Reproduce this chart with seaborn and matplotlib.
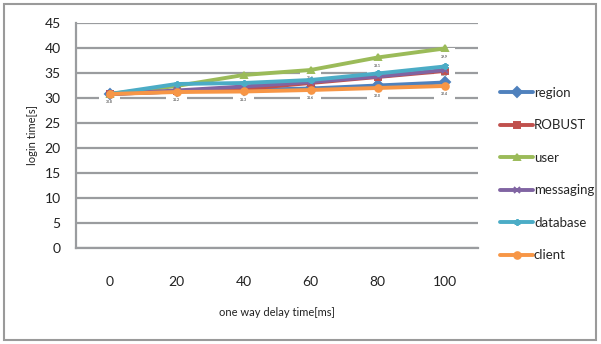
import matplotlib
matplotlib.use("Agg")
import matplotlib.pyplot as plt
from matplotlib.patches import Rectangle
import seaborn as sns
import pandas as pd

# Login time measurements per one-way delay setting
delays = ["0", "20", "40", "60", "80", "100"]
region = [30.8, 31.3, 31.6, 31.9, 32.5, 33.1]
robust = [30.8, 31.3, 31.8, 33.0, 34.2, 35.4]
user = [30.8, 32.4, 34.6, 35.6, 38.1, 39.9]
messaging = [30.8, 31.5, 32.3, 33.2, 34.3, 35.6]
database = [30.8, 32.8, 33.0, 33.6, 34.9, 36.3]
client = [30.8, 31.2, 31.3, 31.6, 32.0, 32.4]

series_names = ["region", "ROBUST", "user", "messaging", "database", "client"]
series_values = [region, robust, user, messaging, database, client]
colors = ["#4F81BD", "#C0504D", "#9BBB59", "#8064A2", "#4BACC6", "#F79646"]
markers = ["D", "s", "^", "x", (6, 2, 0), "o"]

rows = []
for name, vals in zip(series_names, series_values):
    for i, (d, v) in enumerate(zip(delays, vals)):
        rows.append({"pos": i, "delay": d, "series": name, "login": v})
df = pd.DataFrame(rows)

sns.set_theme(style="white")
plt.rcParams["font.family"] = ["Lato", "DejaVu Sans"]

fig = plt.figure(figsize=(6.01, 3.44), dpi=100)
ax = fig.add_axes([76 / 601, 1 - 248 / 344, (478 - 76) / 601, (248 - 23) / 344])

# outer chart border
fig.patches.append(Rectangle((4 / 601, 4 / 344), 592 / 601, 336 / 344,
                             transform=fig.transFigure, fill=False,
                             edgecolor="#9a9a9a", linewidth=1.5, zorder=0))

grid_color = "#9a9c9f"
ax.set_axisbelow(True)
ax.yaxis.grid(True, color=grid_color, linewidth=1.6, zorder=0.5)

for name, c, m in zip(series_names, colors, markers):
    sub = df[df["series"] == name]
    sns.lineplot(data=sub, x="pos", y="login", color=c, marker=m, label=name,
                 linewidth=2.8, markersize=4.8, markeredgewidth=1.4,
                 markeredgecolor=c, ax=ax, zorder=3)

# value labels below each point
for name, vals in zip(series_names, series_values):
    for i, v in enumerate(vals):
        ax.annotate(f"{v:.1f}", (i, v), xytext=(0, -6), textcoords="offset points",
                    ha="center", va="center", fontsize=2.5, color="#222222",
                    bbox=dict(boxstyle="square,pad=2.0", facecolor="white",
                              edgecolor="none"), zorder=1.5)

ax.set_xlim(-0.5, len(delays) - 0.5)
ax.set_ylim(0, 45)
ax.set_yticks(range(0, 46, 5))
ax.set_xticks(range(len(delays)))
ax.set_xticklabels(delays)
ax.set_xticks([i - 0.5 for i in range(len(delays) + 1)], minor=True)
ax.tick_params(axis="x", which="major", length=0, pad=20, labelsize=10, colors="#222222")
ax.tick_params(axis="x", which="minor", length=5, width=1.6, color=grid_color, direction="out")
ax.tick_params(axis="y", which="major", length=5, width=1.6, color=grid_color,
               direction="out", pad=6, labelsize=10, labelcolor="#222222")

for side in ["top", "right"]:
    ax.spines[side].set_visible(False)
for side in ["left", "bottom"]:
    ax.spines[side].set_color(grid_color)
    ax.spines[side].set_linewidth(1.6)

ax.set_xlabel("one way delay time[ms]", fontsize=8, labelpad=14, color="#222222")
ax.set_ylabel("login time[s]", fontsize=8, labelpad=5, color="#222222")

ax.legend(loc="center left", bbox_to_anchor=(495 / 601, 1 - 174 / 344),
          bbox_transform=fig.transFigure, frameon=False, fontsize=9.5,
          handlelength=2.5, labelspacing=1.56, handletextpad=0.05,
          borderaxespad=0)

fig.savefig("out.png", dpi=100)
